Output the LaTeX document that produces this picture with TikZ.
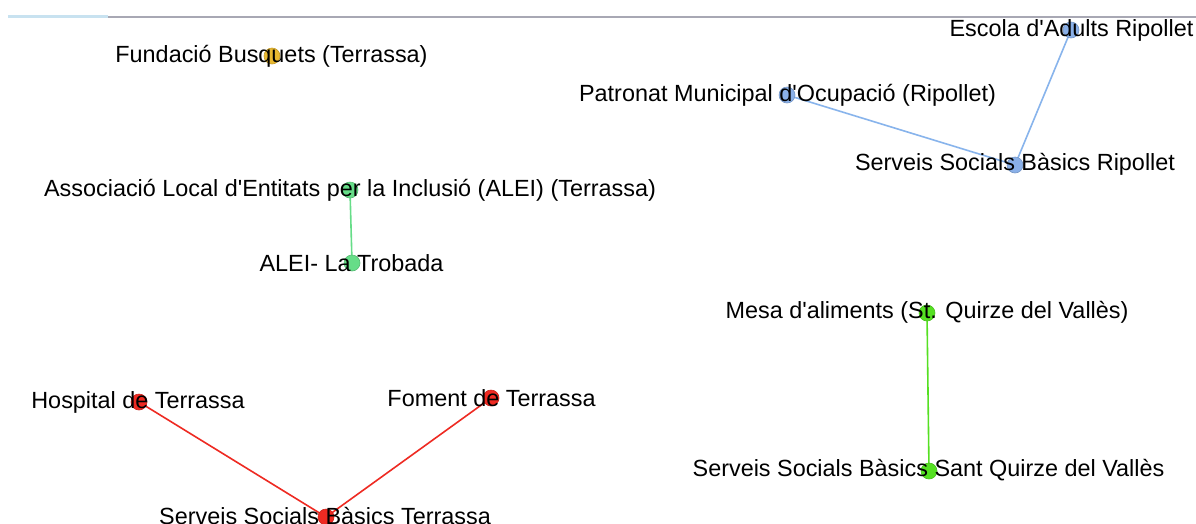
\documentclass[tikz,border=0pt]{standalone}
\usepackage{fontspec}
\setmainfont{Liberation Sans}
\usetikzlibrary{backgrounds}
\definecolor{cblue}{HTML}{8AB0E8}
\definecolor{cbluel}{HTML}{88B4EC}
\definecolor{cteal}{HTML}{66DD88}
\definecolor{clime}{HTML}{55E022}
\definecolor{cred}{HTML}{EE2A22}
\definecolor{cyel}{HTML}{E8B830}
\definecolor{topgray}{HTML}{A8A8B4}
\definecolor{topblue}{HTML}{C8E2F0}
\tikzset{
  dot/.style={circle, inner sep=0pt, minimum size=16pt, fill=#1, draw=#1!85!black, line width=0.6pt},
  lbl/.style={font=\fontsize{23.4}{26}\selectfont, text=black, inner sep=0pt, anchor=center, yshift=-2pt},
  edge/.style={draw=#1, line width=1.6pt},
}
\begin{document}
\begin{tikzpicture}[x=1pt,y=-1pt]
\begin{scope}[on background layer]
\fill[white] (0,0) rectangle (1196,523);
\end{scope}
\useasboundingbox (0,0) rectangle (1196,523);
\draw[topblue, line width=3pt] (8,16.5) -- (108,16.5);
\draw[topgray, line width=1.6pt] (108,17) -- (1196,17);
% dots
\node[dot=cyel] (fb) at (272,56) {};
\node[dot=cblue] (ea) at (1071,30) {};
\node[dot=cblue] (pm) at (787,95) {};
\node[dot=cblue] (sr) at (1015,165) {};
\node[dot=cteal] (al) at (350,190) {};
\node[dot=cteal] (tr) at (352,263) {};
\node[dot=clime] (ma) at (927,313) {};
\node[dot=clime] (sq) at (929,471) {};
\node[dot=cred] (ht) at (139,402) {};
\node[dot=cred] (ft) at (491,398) {};
\node[dot=cred] (st) at (326,517) {};
% edges
\begin{scope}[on background layer]
\draw[edge=cbluel] (ea.center) -- (sr.center);
\draw[edge=cbluel] (pm.center) -- (sr.center);
\draw[edge=cteal] (al.center) -- (tr.center);
\draw[edge=clime] (ma.center) -- (sq.center);
\draw[edge=cred] (ht.center) -- (st.center);
\draw[edge=cred] (ft.center) -- (st.center);
\end{scope}
% labels
\node[lbl] (fbl) at (271.5,54) {Fundació Busquets (Terrassa)};
\node[lbl] (eal) at (1071.5,28) {Escola d\textquotesingle Adults Ripollet};
\node[lbl] (pml) at (787.5,93) {Patronat Municipal d\textquotesingle Ocupació (Ripollet)};
\node[lbl] (srl) at (1015,162) {Serveis Socials Bàsics Ripollet};
\node[lbl] (all) at (350,188) {Associació Local d\textquotesingle Entitats per la Inclusió (ALEI) (Terrassa)};
\node[lbl] (trl) at (351.5,261) {ALEI- La Trobada};
\node[lbl] (mal) at (927,310) {Mesa d\textquotesingle aliments (St. Quirze del Vallès)};
\node[lbl] (sql) at (928.5,468) {Serveis Socials Bàsics Sant Quirze del Vallès};
\node[lbl] (htl) at (138,400) {Hospital de Terrassa};
\node[lbl] (ftl) at (491.5,396) {Foment de Terrassa};
\node[lbl] (stl) at (325,514) {Serveis Socials Bàsics Terrassa};
\end{tikzpicture}
\end{document}
